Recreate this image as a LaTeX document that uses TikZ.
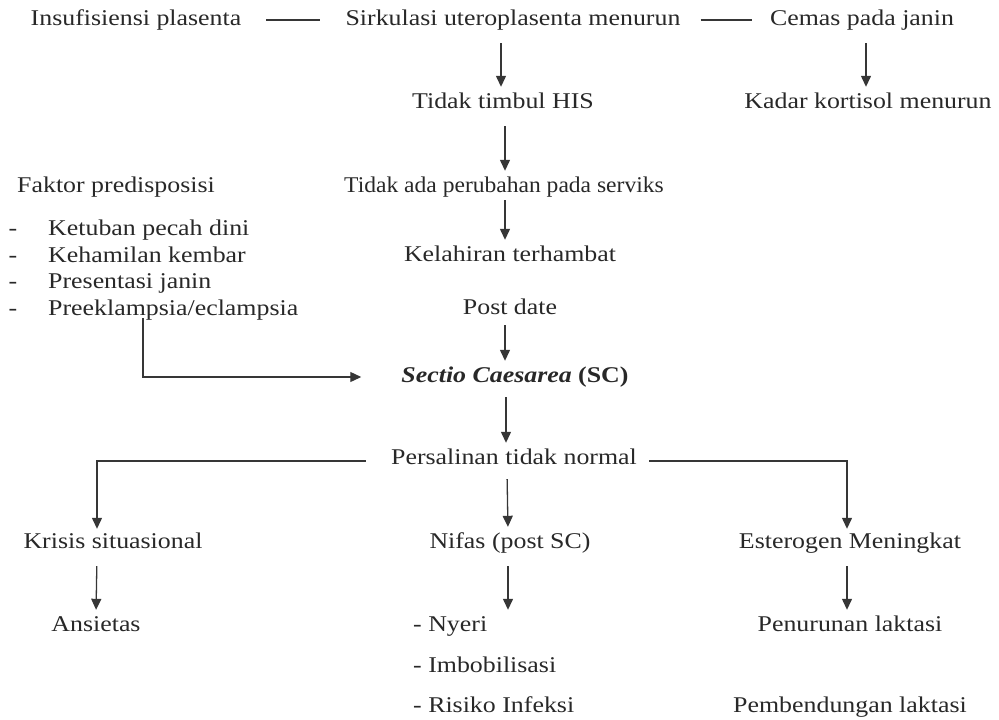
\documentclass[tikz,border=0pt]{standalone}
\usepackage{fontspec}
\setmainfont{Liberation Serif}[FakeStretch=1.15]
\usetikzlibrary{arrows.meta,calc}
\definecolor{txt}{HTML}{282828}
\definecolor{ln}{HTML}{363636}
\begin{document}
\begin{tikzpicture}[x=1pt,y=-1pt,
  lbl/.style={text=txt,font=\fontsize{22.5}{27}\selectfont,inner xsep=0pt,inner ysep=2pt,text height=15pt,text depth=5pt},
  lft/.style={lbl,anchor=west},
  conn/.style={draw=ln,line width=1.3pt},
  tip/.style={-{Triangle[length=11pt,width=10pt]}},
  arr/.style={conn,tip,shorten <=11pt,shorten >=4pt}]
\useasboundingbox (0,0) rectangle (999,720);
% top row
\node[lbl] (insuf) at (136,20) {Insufisiensi plasenta};
\node[lbl] (sirk) at (513,20) {Sirkulasi uteroplasenta menurun};
\node[lbl] (cemas) at (862,20) {Cemas pada janin};
\node[lbl] (his) at (503,103) {Tidak timbul HIS};
\node[lbl] (kadar) at (868,103) {Kadar kortisol menurun};
\node[lbl] (serv) at (504,187) {\scalebox{0.91}[1]{Tidak ada perubahan pada serviks}};
\node[lbl] (lahir) at (510,256) {Kelahiran terhambat};
\node[lbl] (post) at (510,309) {Post date};
\node[lbl] (sc) at (515,377) {\textbf{\textit{Sectio Caesarea}} \textbf{(SC)}};
% faktor
\node[lft] (faktor) at (17,187) {Faktor predisposisi};
\node[lbl] (d1) at (13,230) {-};
\node[lbl] (d2) at (13,257) {-};
\node[lbl] (d3) at (13,283) {-};
\node[lbl] (d4) at (13,310) {-};
\node[lft] (k1) at (48,230) {Ketuban pecah dini};
\node[lft] (k2) at (48,257) {Kehamilan kembar};
\node[lft] (k3) at (48,283) {Presentasi janin};
\node[lft] (k4) at (48,310) {Preeklampsia/eclampsia};
% lower
\node[lbl] (pers) at (514,459) {Persalinan tidak normal};
\node[lbl] (krisis) at (113,543) {Krisis situasional};
\node[lbl] (nifas) at (510,543) {Nifas (post SC)};
\node[lbl] (ester) at (850,543) {Esterogen Meningkat};
\node[lbl] (ans) at (96,626) {Ansietas};
\node[lft] (n1) at (413,626) {- Nyeri};
\node[lft] (n2) at (413,667) {- Imbobilisasi};
\node[lft] (n3) at (413,707) {- Risiko Infeksi};
\node[lbl] (penur) at (850,626) {Penurunan laktasi};
\node[lbl] (pemb) at (850,707) {Pembendungan laktasi};
% connectors
\draw[conn,shorten <=25pt,shorten >=25pt] (insuf.east) -- (sirk.west);
\draw[conn,shorten <=20pt,shorten >=18pt] (sirk.east) -- (cemas.west);
\draw[arr] ([xshift=-12pt]sirk.south) -- ([xshift=-2pt]his.north);
\draw[arr] ([xshift=4pt]cemas.south) -- ([xshift=-2pt]kadar.north);
\draw[arr] ([xshift=2pt]his.south) -- ([xshift=1pt]serv.north);
\draw[arr,shorten <=1pt] ([xshift=1pt]serv.south) -- ([xshift=-5pt]lahir.north);
\draw[arr,shorten <=4pt] ([xshift=-5pt]post.south) -- ([xshift=-10pt]sc.north);
\draw[conn,tip,shorten >=40pt]
  ([xshift=95pt,yshift=4pt]k4.south west) |- (sc.west);
\draw[arr,shorten <=8pt] ([xshift=-9pt]sc.south) -- ([xshift=-8pt]pers.north);
\draw[arr,shorten <=8pt] ([xshift=-7pt]pers.south) -- ([xshift=-2pt]nifas.north);
\draw[conn,tip,shorten <=25pt,shorten >=2pt]
  ([yshift=-2pt]pers.west) -| ([xshift=-16pt]krisis.north);
\draw[conn,tip,shorten <=12pt,shorten >=2pt]
  ([yshift=-2pt]pers.east) -| ([xshift=-3pt]ester.north);
\draw[arr] ([xshift=-16pt]krisis.south) -- (ans.north);
\draw[arr] ([xshift=-2pt]nifas.south) -- ([xshift=95pt]n1.north west);
\draw[arr] ([xshift=-3pt]ester.south) -- ([xshift=-3pt]penur.north);
\end{tikzpicture}
\end{document}
